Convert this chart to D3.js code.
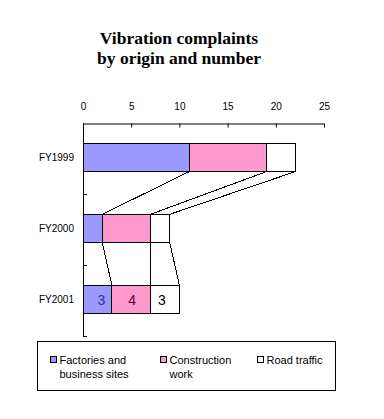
<!DOCTYPE html>
<html>
<head>
<meta charset="utf-8">
<script src="https://cdn.jsdelivr.net/npm/d3@7"></script>
<style>
  body { margin: 0; background: #fff; }
  text { font-family: "Liberation Sans", Arial, sans-serif; }
</style>
</head>
<body>
<div id="chart"></div>
<script>
var categories = ["FY1999", "FY2000", "FY2001"];
var seriesNames = ["Factories and business sites", "Construction work", "Road traffic"];
var factories = [11, 2, 3];
var construction = [8, 5, 4];
var roadTraffic = [3, 2, 3];
var xTicks = [0, 5, 10, 15, 20, 25];
var labelledCategory = "FY2001";

var width = 384, height = 419;
var colors = ["#9999ff", "#ff99cc", "#ffffff"];
var labelColors = ["#333399", "#660033", "#000000"];
var legendLines = [["Factories and", "business sites"], ["Construction", "work"], ["Road traffic"]];

var rows = categories.map(function(c, i) {
  return { category: c, values: [factories[i], construction[i], roadTraffic[i]] };
});
var stacked = d3.stack().keys([0, 1, 2]).value(function(d, k) { return d.values[k]; })(rows);

var svg = d3.select("#chart").append("svg")
  .attr("width", width)
  .attr("height", height);

svg.append("rect").attr("width", width).attr("height", height).attr("fill", "white");

// title
["Vibration complaints", "by origin and number"].forEach(function(t, i) {
  svg.append("text")
    .attr("x", 179).attr("y", 44 + i * 19.5)
    .attr("text-anchor", "middle")
    .style("font-family", "'Liberation Serif', 'DejaVu Serif', serif")
    .style("font-weight", "bold")
    .style("font-size", "17.5px")
    .text(t);
});

var x = d3.scaleLinear().domain([0, 25]).range([83, 324]);
var y = d3.scaleBand().domain(categories).range([123, 336]);
var barH = y.bandwidth() * 0.4;
var barY = function(c) { return y(c) + (y.bandwidth() - barH) / 2 - 1; };

// series lines between bars
var lines = [];
stacked.forEach(function(s) {
  for (var i = 0; i < s.length - 1; i++) {
    lines.push({ x1: x(s[i][1]), y1: barY(categories[i]) + barH, x2: x(s[i + 1][1]), y2: barY(categories[i + 1]) });
  }
});
svg.append("g").selectAll("line").data(lines).enter().append("line")
  .attr("x1", function(d) { return d.x1; })
  .attr("y1", function(d) { return d.y1; })
  .attr("x2", function(d) { return d.x2; })
  .attr("y2", function(d) { return d.y2; })
  .attr("stroke", "black")
  .attr("stroke-width", 1)
  .attr("shape-rendering", "crispEdges");

// bars
svg.append("g").selectAll("g").data(stacked).enter().append("g")
  .attr("fill", function(d, i) { return colors[i]; })
  .selectAll("rect").data(function(d) { return d; }).enter().append("rect")
  .attr("x", function(d) { return x(d[0]); })
  .attr("y", function(d) { return barY(d.data.category); })
  .attr("width", function(d) { return x(d[1]) - x(d[0]); })
  .attr("height", barH)
  .attr("stroke", "black")
  .attr("stroke-width", 1)
  .attr("shape-rendering", "crispEdges");

// data labels on last bar
stacked.forEach(function(s, k) {
  s.filter(function(d) { return d.data.category === labelledCategory; }).forEach(function(d) {
    svg.append("text")
      .attr("x", (x(d[0]) + x(d[1])) / 2 + [4, 1, -3][k])
      .attr("y", barY(d.data.category) + barH / 2 + 5)
      .attr("text-anchor", "middle")
      .attr("fill", labelColors[k])
      .style("font-size", "14px")
      .text(d[1] - d[0]);
  });
});

// top value axis
var xAxis = d3.axisTop(x).tickValues(xTicks).tickSizeInner(-4).tickSizeOuter(0).tickPadding(14);
var gx = svg.append("g").attr("transform", "translate(0,123.5)").call(xAxis);
gx.select(".domain").attr("stroke", "black");
gx.selectAll(".tick line").attr("stroke", "black");
gx.selectAll(".tick text").style("font-size", "10px").style("font-family", "'Liberation Sans', Arial, sans-serif").attr("fill", "black");

// category axis
var gy = svg.append("g");
gy.append("line").attr("x1", 83.5).attr("x2", 83.5).attr("y1", 123).attr("y2", 336.5).attr("stroke", "black");
gy.selectAll(".ytick").data(categories.slice(1).concat([null])).enter().append("line")
  .attr("x1", 83).attr("x2", 87)
  .attr("y1", function(d) { return d ? y(d) + 0.5 : y.range()[1] + 0.5; })
  .attr("y2", function(d) { return d ? y(d) + 0.5 : y.range()[1] + 0.5; })
  .attr("stroke", "black");
gy.selectAll(".ylabel").data(categories).enter().append("text")
  .attr("x", 74)
  .attr("y", function(d) { return barY(d) + barH / 2 + 3.5; })
  .attr("text-anchor", "end")
  .style("font-size", "10px")
  .text(function(d) { return d; });

// legend
var legend = svg.append("g");
legend.append("rect")
  .attr("x", 37.5).attr("y", 341.5).attr("width", 298).attr("height", 49)
  .attr("fill", "white").attr("stroke", "black");
var legendX = [50, 160, 257];
seriesNames.forEach(function(name, i) {
  var g = legend.append("g").attr("transform", "translate(" + legendX[i] + ",0)");
  g.append("rect").attr("x", 0.5).attr("y", 356.5).attr("width", 6).attr("height", 6)
    .attr("fill", colors[i]).attr("stroke", "black");
  legendLines[i].forEach(function(line, j) {
    g.append("text").attr("x", 9.5).attr("y", 364 + j * 13.5)
      .style("font-size", "11px")
      .text(line);
  });
});
</script>
</body>
</html>
